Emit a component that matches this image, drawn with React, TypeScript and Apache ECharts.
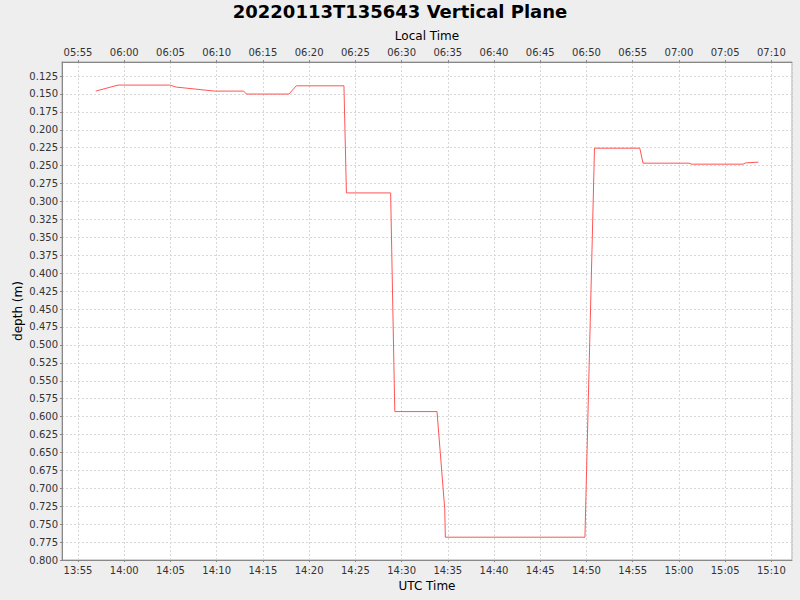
import { useEffect, useRef } from 'react';
import * as echarts from 'echarts';

// UTC sample times and depth readings (m)
const utcTimes = [
    '13:56:55', '13:59:20', '14:04:55', '14:05:38', '14:09:47', '14:12:55', '14:13:13',
    '14:17:49', '14:18:37', '14:23:46', '14:24:02', '14:28:49', '14:29:16', '14:33:50',
    '14:34:40', '14:34:44', '14:49:50', '14:50:52', '14:55:46', '14:56:07', '15:01:05',
    '15:01:23', '15:06:56', '15:07:13', '15:08:36'
];
const depths = [
    0.146, 0.1376, 0.1376, 0.1404, 0.146, 0.146, 0.1501,
    0.1501, 0.1386, 0.1386, 0.288, 0.288, 0.593, 0.593,
    0.7285, 0.7682, 0.7682, 0.2256, 0.2256, 0.2465, 0.2465,
    0.2479, 0.2479, 0.2461, 0.2451
];

// local time is UTC-8
const localOffsetMinutes = -8 * 60;

const toMinutes = (hms: string) => {
    const [h, m, s] = hms.split(':').map(Number);
    return h * 60 + m + s / 60;
};

const formatClock = (minutes: number) => {
    const total = Math.round(minutes);
    const wrapped = ((total % 1440) + 1440) % 1440;
    const h = Math.floor(wrapped / 60);
    const m = wrapped % 60;
    return String(h).padStart(2, '0') + ':' + String(m).padStart(2, '0');
};

const FONT = 'DejaVu Sans';
const X_MIN = 833.27;
const X_MAX = 912.23;

const App = () => {
    const chartRef = useRef<HTMLDivElement>(null);

    useEffect(() => {
        if (!chartRef.current) return;
        const chart = echarts.init(chartRef.current, undefined, { renderer: 'svg' });

        const timeAxisCommon = {
            type: 'value',
            min: X_MIN,
            max: X_MAX,
            minInterval: 5,
            maxInterval: 5,
            nameLocation: 'middle',
            nameGap: 20,
            nameTextStyle: { fontFamily: FONT, fontSize: 12, color: '#000' },
            axisLine: { show: true, onZero: false, lineStyle: { color: '#888888' } },
            axisTick: { show: true, length: 2, lineStyle: { color: '#888888' } },
            axisLabel: {
                fontFamily: FONT,
                fontSize: 10,
                color: '#333',
                margin: 5,
                showMinLabel: false,
                showMaxLabel: false
            }
        };

        chart.setOption({
            animation: false,
            backgroundColor: '#eeeeee',
            title: {
                text: '20220113T135643 Vertical Plane',
                left: 'center',
                top: -3,
                textStyle: { fontFamily: FONT, fontSize: 18, fontWeight: 'bold', color: '#000' }
            },
            grid: {
                left: 62,
                right: 8,
                top: 62,
                bottom: 40,
                show: true,
                backgroundColor: '#ffffff',
                borderColor: '#aaaaaa',
                borderWidth: 1
            },
            xAxis: [
                {
                    ...timeAxisCommon,
                    position: 'bottom',
                    name: 'UTC Time',
                    axisLabel: {
                        ...timeAxisCommon.axisLabel,
                        formatter: (v: number) => formatClock(v)
                    },
                    splitLine: { show: true, lineStyle: { color: '#d8d8d8', type: [2, 2] } }
                },
                {
                    ...timeAxisCommon,
                    position: 'top',
                    name: 'Local Time',
                    axisLabel: {
                        ...timeAxisCommon.axisLabel,
                        formatter: (v: number) => formatClock(v + localOffsetMinutes)
                    },
                    splitLine: { show: false }
                }
            ],
            yAxis: {
                type: 'value',
                inverse: true,
                min: 0.1054,
                max: 0.8,
                minInterval: 0.025,
                maxInterval: 0.025,
                name: 'depth (m)',
                nameLocation: 'middle',
                nameGap: 38,
                nameMoveOverlap: false,
                nameTextStyle: { fontFamily: FONT, fontSize: 12, color: '#000' },
                axisLine: { show: true, lineStyle: { color: '#888888' } },
                axisTick: { show: true, length: 2, lineStyle: { color: '#888888' } },
                axisLabel: {
                    fontFamily: FONT,
                    fontSize: 10,
                    color: '#333',
                    margin: 4,
                    showMinLabel: false,
                    formatter: (v: number) => v.toFixed(3)
                },
                splitLine: { show: true, lineStyle: { color: '#d8d8d8', type: [2, 2] } }
            },
            series: [
                {
                    type: 'line',
                    xAxisIndex: 0,
                    data: utcTimes.map((t, i) => [toMinutes(t), depths[i]]),
                    showSymbol: false,
                    symbol: 'none',
                    lineStyle: { color: '#ff5555', width: 1 }
                }
            ]
        });

        return () => {
            chart.dispose();
        };
    }, []);

    return (
        <div
            ref={chartRef}
            style={{ position: 'fixed', left: 0, top: 0, width: '800px', height: '600px' }}
        />
    );
};

export default App;
